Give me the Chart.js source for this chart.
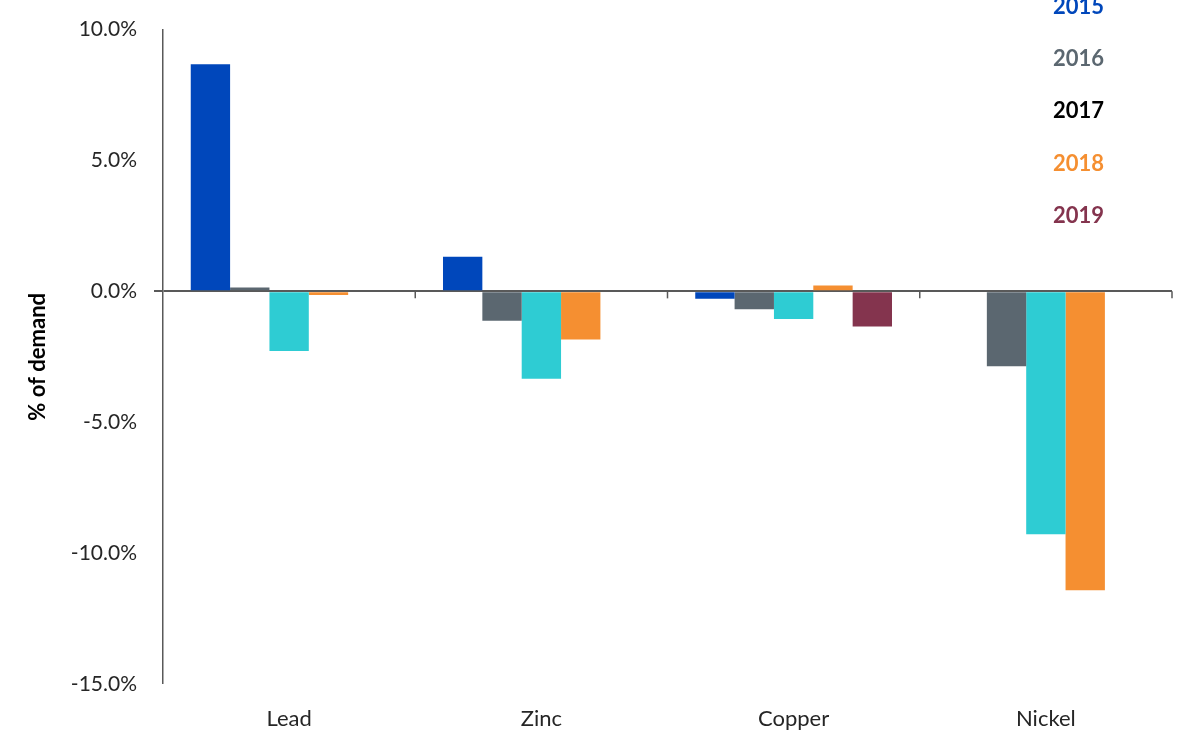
<!DOCTYPE html>
<html>
<head>
<meta charset="utf-8">
<script src="https://cdn.jsdelivr.net/npm/chart.js@4/dist/chart.umd.min.js"></script>
<style>
  html, body { margin: 0; padding: 0; background: #fff; }
  #wrap { width: 1200px; height: 755px; }
</style>
</head>
<body>
<div id="wrap"><canvas id="chart"></canvas></div>
<script>
const metals = ["Lead", "Zinc", "Copper", "Nickel"];
const years = ["2015", "2016", "2017", "2018", "2019"];

// % of demand, per year, in metal order
const v2015 = [8.68, 1.32, -0.28, null];
const v2016 = [0.15, -1.12, -0.68, -2.86];
const v2017 = [-2.28, -3.34, -1.06, -9.28];
const v2018 = [-0.14, -1.84, 0.22, -11.42];
const v2019 = [null, null, -1.34, null];

const barColors = ["#0047BB", "#5B6770", "#2ECCD3", "#F58F31", "#84344E"];
const legendColors = ["#0047BB", "#5B6770", "#000000", "#F58F31", "#84344E"];

const font = "Lato, 'Open Sans', sans-serif";
const series = [v2015, v2016, v2017, v2018, v2019];

// tick marks between categories on the zero line
const zeroTicks = {
  id: "zeroTicks",
  afterDatasetsDraw(chart) {
    const x = chart.scales.x, y = chart.scales.y;
    const ctx = chart.ctx;
    const y0 = y.getPixelForValue(0);
    ctx.save();
    ctx.strokeStyle = "#595959";
    ctx.lineWidth = 1.5;
    for (let i = 1; i <= metals.length; i++) {
      const px = x.left + (x.right - x.left) * i / metals.length;
      ctx.beginPath();
      ctx.moveTo(px, y0);
      ctx.lineTo(px, y0 + 7);
      ctx.stroke();
    }
    ctx.restore();
  }
};

// text-only legend in the top right corner
const textLegend = {
  id: "textLegend",
  afterDraw(chart) {
    const ctx = chart.ctx;
    ctx.save();
    ctx.font = "bold 22px " + font;
    ctx.textBaseline = "middle";
    ctx.textAlign = "left";
    chart.data.datasets.forEach((ds, i) => {
      ctx.fillStyle = legendColors[i];
      ctx.fillText(ds.label, 1053, 7 + i * 52.2);
    });
    ctx.restore();
  }
};

new Chart(document.getElementById("chart"), {
  type: "bar",
  data: {
    labels: metals,
    datasets: years.map((yr, i) => ({
      label: yr,
      data: series[i],
      backgroundColor: barColors[i],
      borderWidth: 0,
      categoryPercentage: 0.78,
      barPercentage: 1.0
    }))
  },
  options: {
    responsive: true,
    maintainAspectRatio: false,
    animation: false,
    layout: { padding: { top: 28, right: 28, bottom: 0, left: 0 } },
    plugins: {
      legend: { display: false },
      tooltip: { enabled: false }
    },
    scales: {
      x: {
        grid: { display: false, drawTicks: false },
        border: { display: false },
        ticks: { color: "#262626", font: { family: font, size: 22 }, padding: 22 },
        afterFit(s) { s.height = 71; }
      },
      y: {
        min: -15,
        max: 10,
        grid: {
          color: c => (c.tick && c.tick.value === 0 ? "#595959" : "rgba(0,0,0,0)"),
          lineWidth: c => (c.tick && c.tick.value === 0 ? 2 : 0),
          tickColor: "#595959",
          tickLength: 9,
          drawTicks: true
        },
        border: { display: true, color: "#595959", width: 1.5 },
        ticks: {
          stepSize: 5,
          color: "#262626",
          font: { family: font, size: 21 },
          padding: 17,
          callback: v => v.toFixed(1) + "%"
        },
        title: {
          display: true,
          text: "% of demand",
          color: "#000",
          font: { family: font, size: 22, weight: "bold" },
          padding: { top: 25, bottom: 10 }
        },
        afterFit(s) { s.width = 163; }
      }
    }
  },
  plugins: [zeroTicks, textLegend]
});
</script>
</body>
</html>
